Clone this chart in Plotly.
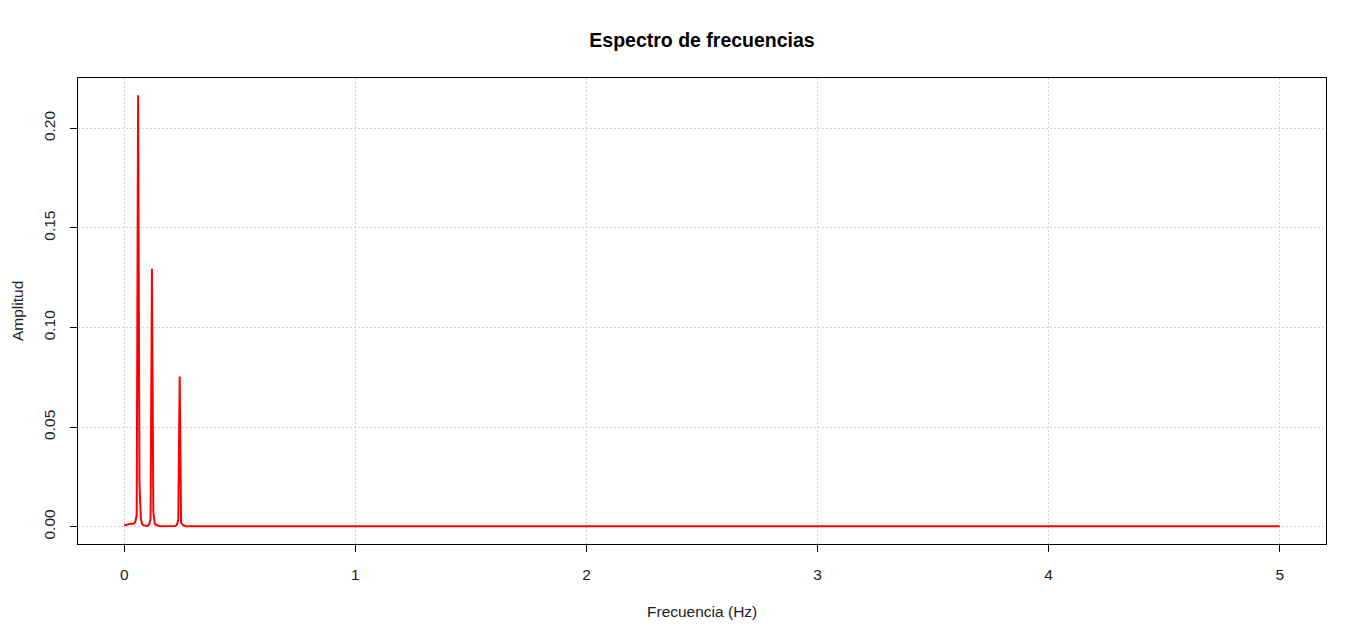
import plotly.graph_objects as go

# Frequencies (Hz) and amplitudes
freq = [0.000, 0.006, 0.012, 0.018, 0.024, 0.030, 0.036, 0.042, 0.048, 0.054,
        0.060, 0.066, 0.072, 0.078, 0.084, 0.090, 0.096, 0.102, 0.108, 0.114,
        0.120, 0.126, 0.132, 0.138, 0.144, 0.150, 0.156, 0.162, 0.168, 0.174,
        0.180, 0.186, 0.192, 0.198, 0.204, 0.210, 0.216, 0.222, 0.228, 0.234,
        0.240, 0.246, 0.252, 0.258, 0.264, 0.270, 5.000]
amp = [0.0008, 0.0010, 0.0010, 0.0012, 0.0015, 0.0015, 0.0015, 0.0016, 0.0025, 0.0060,
       0.2166, 0.0218, 0.0040, 0.0012, 0.0008, 0.0004, 0.0004, 0.0005, 0.0010, 0.0040,
       0.1295, 0.0075, 0.0015, 0.0010, 0.0006, 0.0004, 0.0003, 0.0003, 0.0003, 0.0003,
       0.0003, 0.0003, 0.0003, 0.0003, 0.0003, 0.0003, 0.0003, 0.0004, 0.0010, 0.0035,
       0.0754, 0.0020, 0.0010, 0.0005, 0.0004, 0.0003, 0.0003]

x_ticks = [0, 1, 2, 3, 4, 5]
y_ticks = [0.00, 0.05, 0.10, 0.15, 0.20]
y_tick_text = ["0.00", "0.05", "0.10", "0.15", "0.20"]

title_text = "Espectro de frecuencias"
x_label = "Frecuencia (Hz)"
y_label = "Amplitud"

# R-style 4% axis extension
xmin, xmax = min(freq), max(freq)
ymin, ymax = min(0.0, min(amp)), max(amp)
xpad = 0.04 * (xmax - xmin)
ypad = 0.04 * (ymax - ymin)

fig = go.Figure()
fig.add_trace(go.Scatter(x=freq, y=amp, mode="lines",
                         line=dict(color="#ff0000", width=2),
                         hoverinfo="x+y", showlegend=False))

font_family = "Liberation Sans, Arial, sans-serif"
grid = dict(showgrid=True, gridcolor="#d3d3d3", griddash="2px,2px", gridwidth=1)
axis_common = dict(showline=True, linecolor="black", linewidth=1, mirror=True,
                   ticks="outside", ticklen=7, tickcolor="black", tickwidth=1,
                   zeroline=False, tickfont=dict(size=15.5, color="#222"), **grid)

# page body has an 8px margin, so the figure is offset by 8px
fig.update_layout(
    width=1350, height=626,
    margin=dict(l=70, r=32, t=70, b=90),
    paper_bgcolor="white", plot_bgcolor="white",
    font=dict(family=font_family, size=15.5, color="black"),
    title=dict(text="<b>" + title_text + "</b>", x=(702 - 8) / 1350, xanchor="center",
               y=1 - 32 / 626, yanchor="middle", yref="container",
               font=dict(size=19.5, family=font_family, color="black")),
    xaxis=dict(range=[xmin - xpad, xmax + xpad], tickvals=x_ticks,
               ticktext=[str(t) for t in x_ticks], ticklabelstandoff=9,
               **axis_common),
    yaxis=dict(range=[ymin - ypad, ymax + ypad], tickvals=y_ticks,
               ticktext=y_tick_text, tickangle=-90, ticklabelstandoff=9,
               **axis_common),
    annotations=[
        dict(text=x_label, xref="paper", yref="paper", x=0.5, y=0,
             xanchor="center", yanchor="middle", yshift=-67, showarrow=False,
             font=dict(size=15.5, family=font_family, color="#222")),
        dict(text=y_label, xref="paper", yref="paper", x=0, y=0.5,
             xanchor="center", yanchor="middle", xshift=-61, textangle=-90,
             showarrow=False, font=dict(size=15.5, family=font_family, color="#222")),
    ],
)

fig.write_html("out.html")
